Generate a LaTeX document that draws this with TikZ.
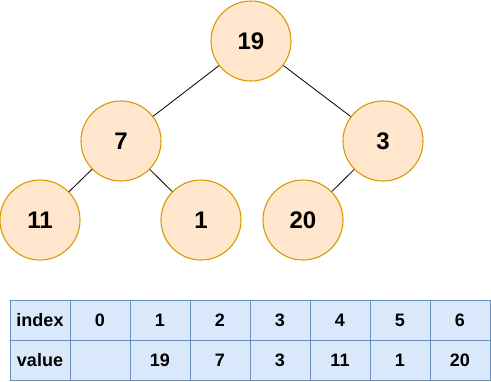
\documentclass[tikz,border=0pt]{standalone}
\usepackage{fontspec}
\setmainfont{Liberation Sans}
\usetikzlibrary{positioning}
\definecolor{heapFill}{HTML}{FFE6CC}
\definecolor{heapLine}{HTML}{D79B00}
\definecolor{cellFill}{HTML}{DAE8FC}
\definecolor{cellLine}{HTML}{6C8EBF}

\begin{document}
\begin{tikzpicture}[x=1pt,y=-1pt,
  heapnode/.style={circle,draw=heapLine,fill=heapFill,line width=1.1pt,
    minimum size=80pt,inner sep=0pt,font=\fontsize{24}{28}\selectfont\bfseries},
  cell/.style={draw=cellLine,fill=cellFill,line width=1pt,minimum width=60pt,
    minimum height=40pt,inner sep=0pt,font=\fontsize{18}{22}\selectfont\bfseries},
  link/.style={black,line width=0.8pt}]
\useasboundingbox (0,0) rectangle (491,381);
% heap as a tree
\node[heapnode] (n19) at (251,41) {19};
\node[heapnode] (n7) at (121,141) {7};
\node[heapnode] (n3) at (383,141) {3};
\node[heapnode] (n11) at (40,220) {11};
\node[heapnode] (n1) at (201,220) {1};
\node[heapnode] (n20) at (303,220) {20};
\draw[link] (n19) -- (n7);
\draw[link] (n19) -- (n3);
\draw[link] (n7) -- (n11);
\draw[link] (n7) -- (n1);
\draw[link] (n3) -- (n20);
% heap as an array
\node[cell] (idx) at (40,320) {index};
\node[cell] (val) at (40,360) {value};
\foreach \i/\v in {0/{},1/19,2/7,3/3,4/11,5/1,6/20} {
  \node[cell] (i\i) at (100+60*\i,320) {\i};
  \node[cell] (v\i) at (100+60*\i,360) {\v};
}
\end{tikzpicture}
\end{document}
